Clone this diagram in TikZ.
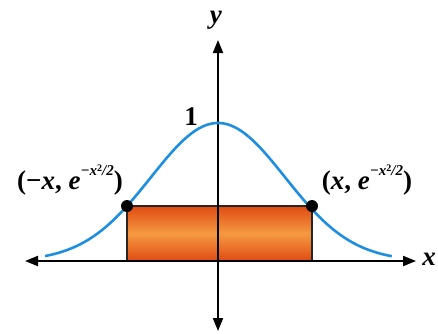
\documentclass[tikz,border=0pt]{standalone}
\usepackage{fontspec}
\setmainfont{Liberation Serif}
\usetikzlibrary{arrows.meta}
\definecolor{curveblue}{HTML}{1E8FE0}
\definecolor{boxdark}{HTML}{DF4A12}
\definecolor{boxlight}{HTML}{F59A42}
\newcommand{\expo}{\textit{e}\raisebox{0.5em}{\fontsize{15}{15}\selectfont\textit{−x}\raisebox{0.3em}{\fontsize{10}{10}\selectfont 2}\textit{/2}}}
\begin{document}
\begin{tikzpicture}[x=1pt,y=-1pt,
  axis/.style={line width=2pt,-{Triangle[length=13pt,width=10pt]}},
  lbl/.style={font=\fontsize{27}{30}\selectfont\bfseries,inner sep=0pt},
  dotmark/.style={circle,fill=black,inner sep=0pt,minimum size=12pt}]
\useasboundingbox (0,0) rectangle (438,333);
% rectangle
\shade[top color=boxdark,bottom color=boxdark,middle color=boxlight] (127,206) rectangle (312,261);
\draw[line width=2pt,black!85] (127,206) rectangle (312,261);
% axes
\coordinate (O) at (218,261);
\coordinate (xl) at (25,261);
\coordinate (xr) at (416,261);
\coordinate (yt) at (218,40);
\coordinate (yb) at (218,331);
\draw[axis] (O) -- (xr);
\draw[axis] (O) -- (xl);
\draw[axis] (O) -- (yt);
\draw[axis] (O) -- (yb);
% curve
\draw[curveblue,line width=2.6pt,smooth,samples=120,domain=-1.9:1.91]
  plot ({218+91*\x},{261-138*exp(-0.92*\x*\x)});
% dots
\node[dotmark] (pl) at (127,206) {};
\node[dotmark] (pr) at (312,206) {};
% labels
\node[lbl] (ylab) at (216,20) {\textit{y}};
\node[lbl] (xlab) at (429,259) {\textit{x}};
\node[lbl] (one) at (191,117) {1};
\node[lbl] (ll) at (70,180) {(−\textit{x}, \expo)};
\node[lbl] (rl) at (367,180) {(\textit{x}, \expo)};
\end{tikzpicture}
\end{document}
